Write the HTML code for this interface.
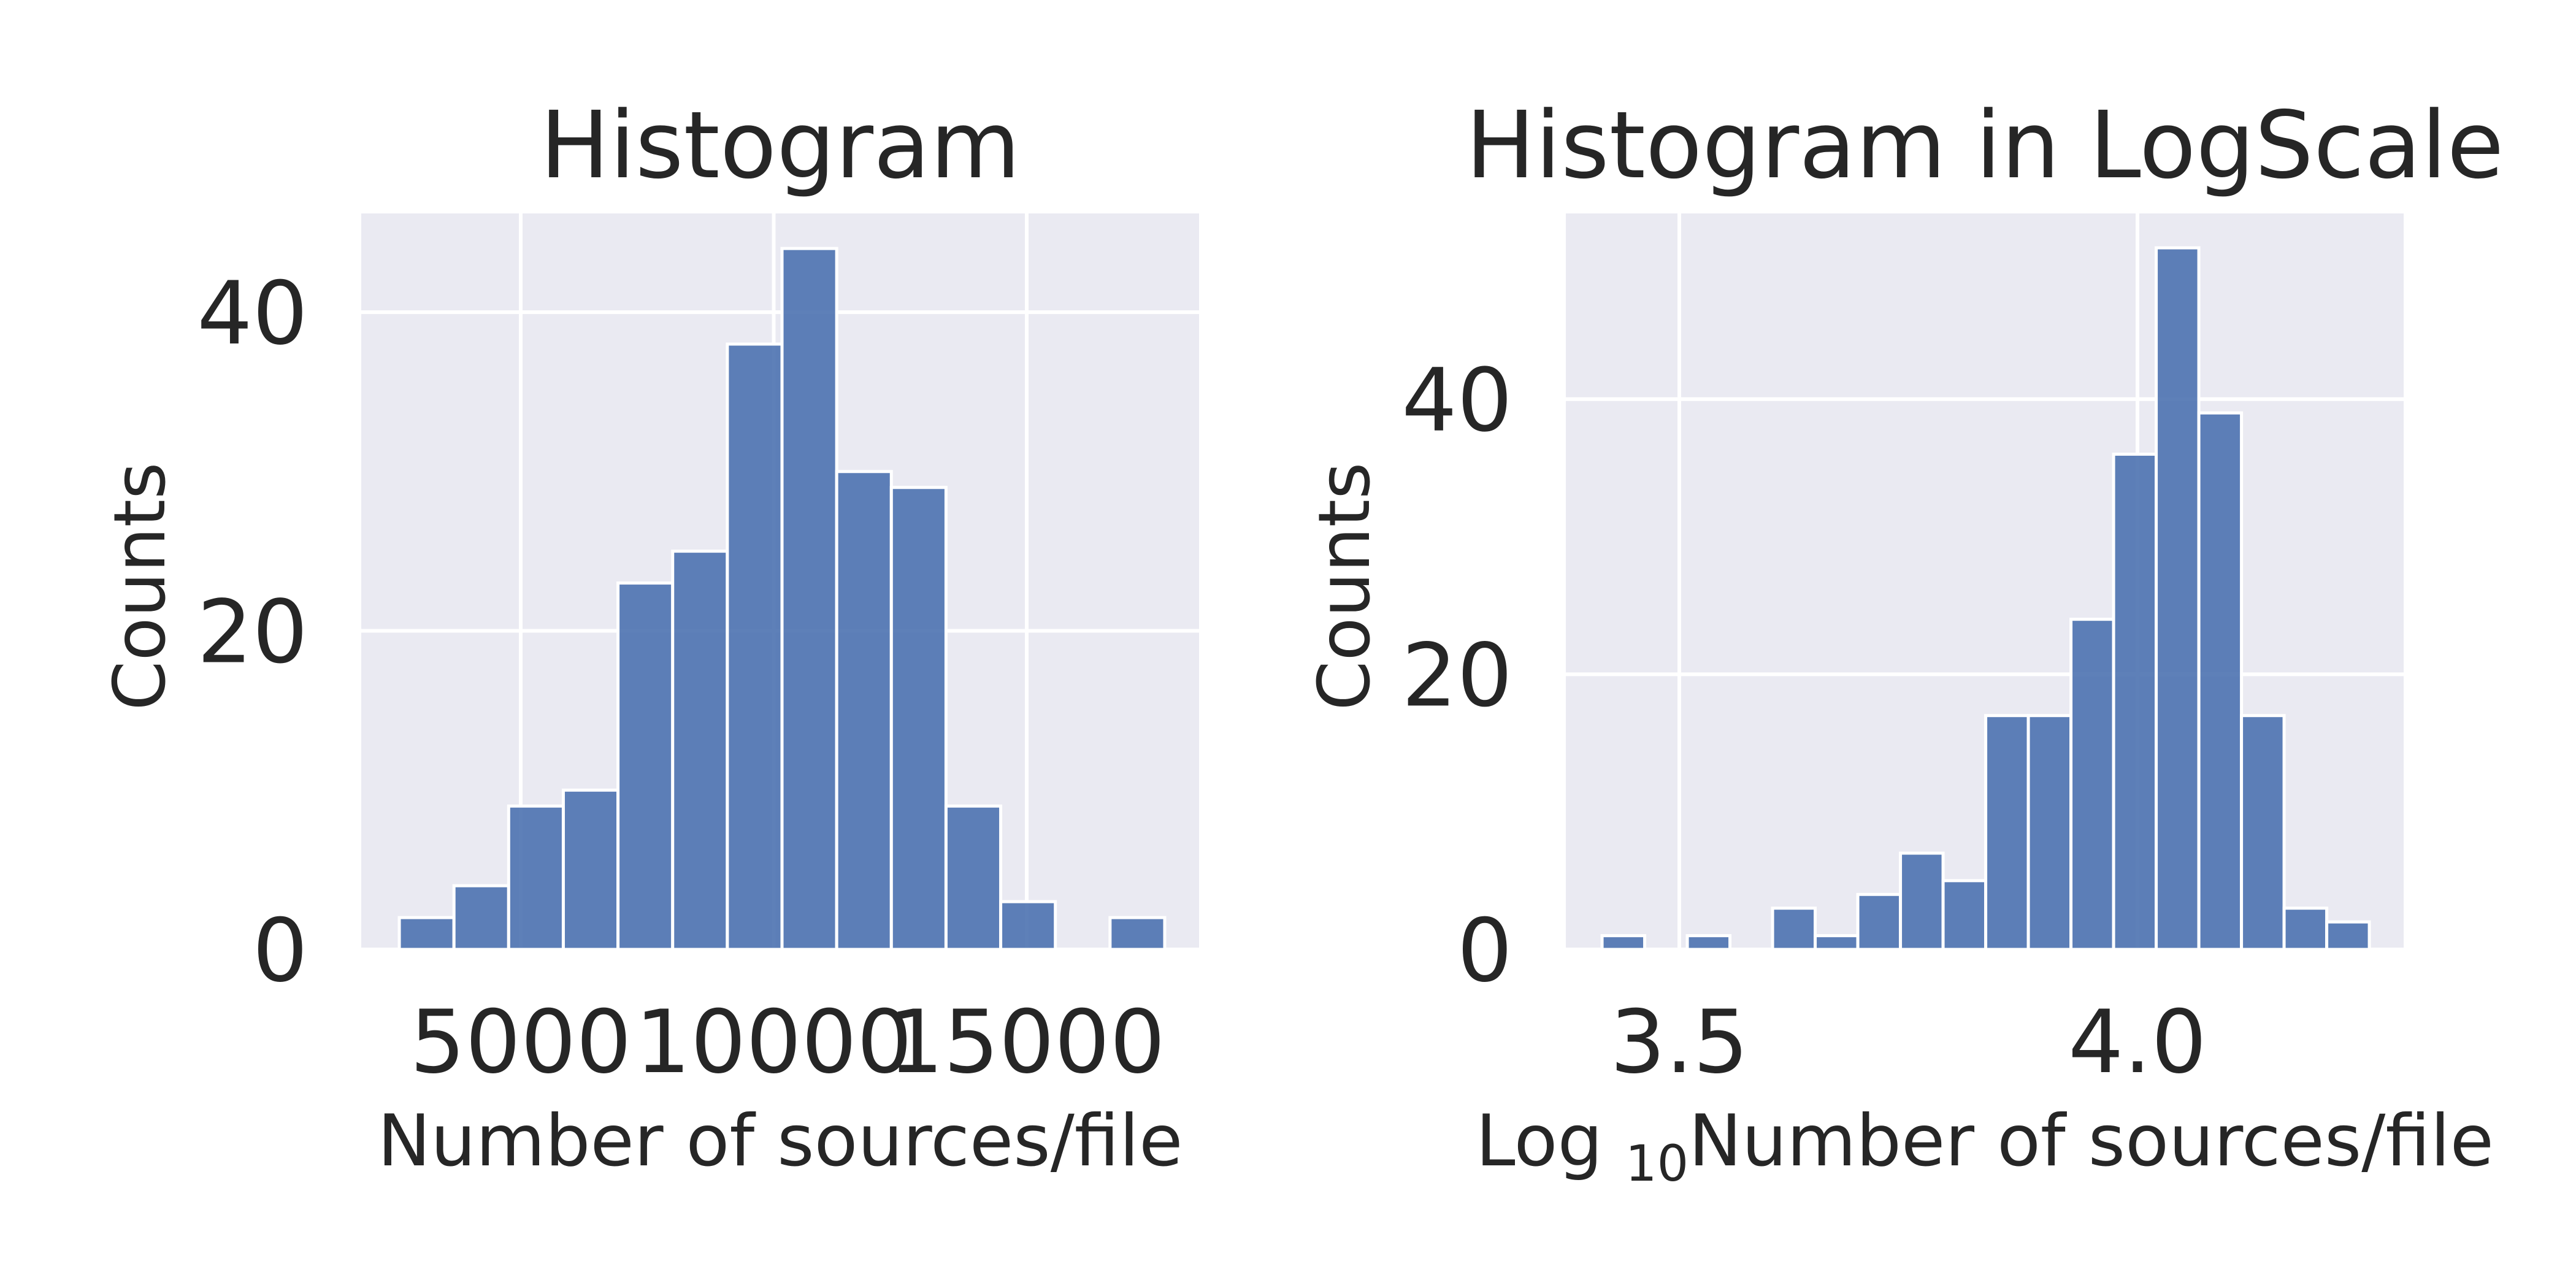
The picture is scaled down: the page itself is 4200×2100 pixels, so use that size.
<!DOCTYPE html>
<html><head><meta charset="utf-8"><style>
html,body{margin:0;padding:0;background:#fff;}
svg{display:block;font-family:"DejaVu Sans","Liberation Sans",sans-serif;}
</style></head><body>
<svg id="chart" width="4200" height="2100" viewBox="0 0 4200 2100" xmlns="http://www.w3.org/2000/svg"></svg>
<script>
// Left histogram data
const leftCounts = [2,4,9,10,23,25,38,44,30,29,9,3,0,2];
const leftStart = 2600;
const leftBinWidth = 1080.5;
const leftXTicks = [5000,10000,15000];
const leftXTickLabels = ["5000","10000","15000"];
const leftYTicks = [0,20,40];
const leftYTickLabels = ["0","20","40"];
// Right histogram data
const rightCounts = [1,0,1,0,3,1,4,7,5,17,17,24,36,51,39,17,3,2];
const rightStart = 3.4157;
const rightBinWidth = 0.04652;
const rightXTicks = [3.5,4.0];
const rightXTickLabels = ["3.5","4.0"];
const rightYTicks = [0,20,40];
const rightYTickLabels = ["0","20","40"];

const NS="http://www.w3.org/2000/svg";
const svg=document.getElementById('chart');
function mk(tag,attrs,parent,text){const e=document.createElementNS(NS,tag);for(const k in attrs)e.setAttribute(k,attrs[k]);if(text!==undefined)e.textContent=text;(parent||svg).appendChild(e);return e;}

function panel(o){
  const g=mk('g',{});
  
  
  const sx=v=>o.x0+(v-o.xmin)/(o.xmax-o.xmin)*(o.x1-o.x0);
  const sy=v=>o.y1-(v-o.ymin)/(o.ymax-o.ymin)*(o.y1-o.y0);
  const bg=mk('rect',{x:o.x0,y:o.y0,width:o.x1-o.x0,height:o.y1-o.y0,fill:'#eaeaf2'},g);
  
  
  o.yTicks.forEach((t,i)=>{
    const l=mk('line',{x1:o.x0,x2:o.x1,y1:sy(t),y2:sy(t),stroke:'#fff','stroke-width':6},g);
    
    
    const tx=mk('text',{x:o.x0-87,y:sy(t)+51,'text-anchor':'end','font-size':142,fill:'#262626'},g,o.yLabels[i]);
    
    
  });
  o.xTicks.forEach((t,i)=>{
    const l=mk('line',{x1:sx(t),x2:sx(t),y1:o.y0,y2:o.y1,stroke:'#fff','stroke-width':6},g);
    
    
    const tx=mk('text',{x:sx(t),y:1748,'text-anchor':'middle','font-size':142,fill:'#262626'},g,o.xLabels[i]);
    
    
  });
  o.counts.forEach((c,i)=>{
    if(c<=0)return;
    const a=o.start+i*o.bw, b=a+o.bw;
    const r=mk('rect',{x:sx(a),y:sy(c),width:sx(b)-sx(a),height:sy(0)-sy(c),fill:'#4c72b0','fill-opacity':0.9,stroke:'#fff','stroke-width':5},g);
    
    
  });
  const cx=(o.x0+o.x1)/2;
  const ti=mk('text',{x:cx,y:289,'text-anchor':'middle','font-size':151,fill:'#262626'},g,o.title);
  
  
  const yl=mk('text',{x:0,y:0,'text-anchor':'middle','font-size':116,fill:'#262626',transform:`translate(${o.ylx},956) rotate(-90)`},g,'Counts');
  
  
  const xl=mk('text',{x:cx,y:1900,'text-anchor':'middle','font-size':116,fill:'#262626'},g);
  
  
  if(o.log){
    mk('tspan',{},xl,'Log ');
    mk('tspan',{'font-size':81,dy:25},xl,'10');
    mk('tspan',{dy:-25},xl,'Number of sources/file');
  } else xl.textContent='Number of sources/file';
}
panel({name:'histogram-panel',x0:589,x1:1955,y0:348,y1:1548,xmin:1848,xmax:18406,ymin:0,ymax:46.2,
  counts:leftCounts,start:leftStart,bw:leftBinWidth,xTicks:leftXTicks,xLabels:leftXTickLabels,
  yTicks:leftYTicks,yLabels:leftYTickLabels,title:'Histogram',ylx:268,log:false});
panel({name:'log-histogram-panel',x0:2553,x1:3919,y0:348,y1:1548,xmin:3.5-(2738-2553)/1494,xmax:3.5+(3919-2738)/1494,ymin:0,ymax:53.5,
  counts:rightCounts,start:rightStart,bw:rightBinWidth,xTicks:rightXTicks,xLabels:rightXTickLabels,
  yTicks:rightYTicks,yLabels:rightYTickLabels,title:'Histogram in LogScale',ylx:2232,log:true});
</script>
</body></html>
